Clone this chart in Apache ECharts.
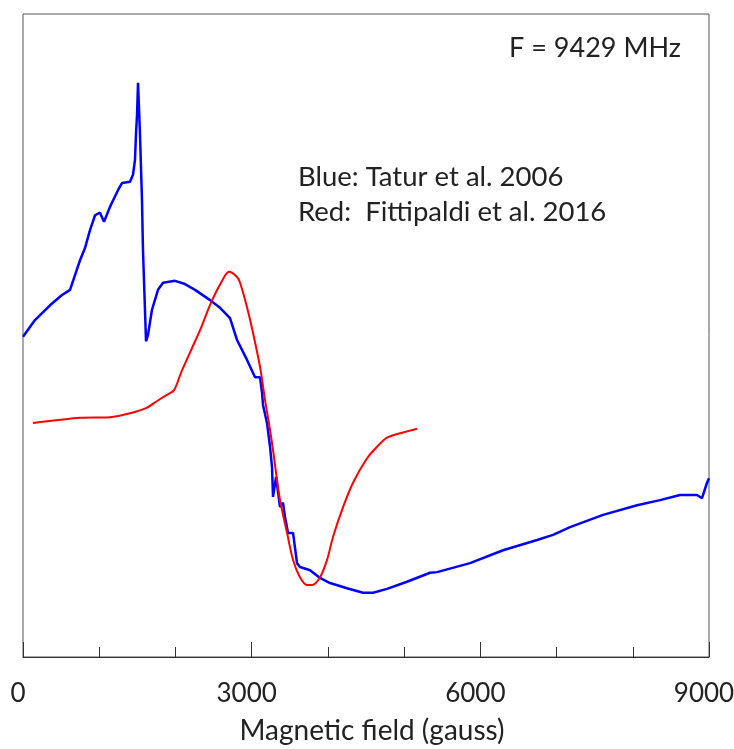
<!DOCTYPE html>
<html>
<head>
<meta charset="utf-8">
<script src="https://cdn.jsdelivr.net/npm/echarts@6/dist/echarts.min.js"></script>
<style>html,body{margin:0;padding:0;background:#fff}#c{width:734px;height:749px}</style>
</head>
<body>
<div id="c"></div>
<script>
// Magnetic field (gauss)
const blueField = [0,157,354,512,617,748,813,879,945,1010,1063,1141,1246,1299,1404,1443,1469,1483,1496,1509,1522,1535,1561,1574,1614,1640,1692,1771,1837,1994,2125,2257,2454,2585,2716,2808,2939,3044,3110,3136,3149,3201,3241,3267,3280,3320,3372,3411,3437,3477,3543,3595,3634,3766,3897,4028,4251,4461,4592,4776,5038,5340,5432,5865,6298,6744,6954,7177,7610,8056,8357,8620,8843,8908,8974,9000];
// EPR signal (arbitrary units) – Tatur et al. 2006
const blueSignal = [49.8,52.4,54.7,56.3,57.1,61.7,63.6,66.4,68.7,69.1,67.7,70.0,72.6,73.7,73.9,75.0,77.3,81.5,84.3,89.3,89.0,81.2,71.1,63.3,49.1,50.1,54.0,57.1,58.2,58.5,58.0,57.1,55.5,54.3,52.7,49.3,46.2,43.5,43.5,41.1,39.2,36.4,32.7,29.5,24.9,28.0,23.3,24.0,21.8,19.3,19.3,14.6,14.0,13.5,12.3,11.5,10.7,10.0,10.0,10.6,11.7,13.1,13.2,14.6,16.6,18.2,19.0,20.2,22.1,23.6,24.4,25.2,25.2,24.7,27.1,27.8];
// Fittipaldi et al. 2016
const redField = [131,354,748,1141,1404,1614,1745,1876,1981,2073,2204,2336,2467,2598,2703,2808,2848,2939,3018,3110,3175,3241,3280,3372,3464,3543,3634,3726,3792,3897,3989,4068,4199,4330,4514,4645,4776,4948,5171];
const redSignal = [36.4,36.7,37.2,37.3,37.9,38.7,39.7,40.7,41.5,44.2,47.7,51.2,55.1,58.2,59.9,59.1,58.2,54.4,50.4,45.1,40.0,35.3,32.2,24.4,19.3,15.1,12.4,11.2,11.2,12.4,15.1,18.7,23.3,27.1,30.9,32.7,34.1,34.8,35.5];
const xTicks = [0,3000,6000,9000];
const annotations = ["F = 9429 MHz","Blue: Tatur et al. 2006","Red:  Fittipaldi et al. 2016"];

const zip = (a,b) => a.map((v,i)=>[v,b[i]]);
const chart = echarts.init(document.getElementById('c'), null, {renderer:'canvas'});
const FONT = 'Lato, "Open Sans", sans-serif';
chart.setOption({
  animation:false,
  backgroundColor:'#fff',
  grid:{left:23,right:25,top:14,bottom:92,containLabel:false,outerBoundsMode:'none',show:true,borderColor:'#555',borderWidth:1,backgroundColor:'transparent'},
  xAxis:{
    type:'value',min:0,max:9000,interval:3000,
    name:'Magnetic field (gauss)',nameLocation:'middle',nameGap:60,
    nameTextStyle:{fontSize:28,color:'#222',fontFamily:FONT,padding:[0,0,0,12]},
    axisLine:{show:true,lineStyle:{color:'#333',width:1}},
    axisTick:{show:true,inside:true,length:15,lineStyle:{color:'#333'}},
    minorTick:{show:true,splitNumber:3,length:10,lineStyle:{color:'#333'}},
    splitLine:{show:false},
    axisLabel:{fontSize:26,color:'#222',fontFamily:FONT,margin:24,padding:[0,10,0,0],
      formatter:v=>xTicks.includes(v)?String(v):''}
  },
  yAxis:{type:'value',min:0,max:100,show:false},
  series:[
    {type:'line',data:zip(blueField,blueSignal),showSymbol:false,lineStyle:{color:'#0000ff',width:2.5},z:2},
    {type:'line',data:zip(redField,redSignal),showSymbol:false,smooth:0.3,lineStyle:{color:'#ff0000',width:2},z:3}
  ],
  graphic:[
    {type:'text',x:681,y:48,style:{text:annotations[0],textAlign:'right',textVerticalAlign:'middle',fontSize:27,fontFamily:FONT,fill:'#222'}},
    {type:'text',x:298,y:177,style:{text:annotations[1],textAlign:'left',textVerticalAlign:'middle',fontSize:27.5,fontFamily:FONT,fill:'#222'}},
    {type:'text',x:298,y:212,style:{text:annotations[2],textAlign:'left',textVerticalAlign:'middle',fontSize:27.5,fontFamily:FONT,fill:'#222'}}
  ]
});
</script>
</body>
</html>
